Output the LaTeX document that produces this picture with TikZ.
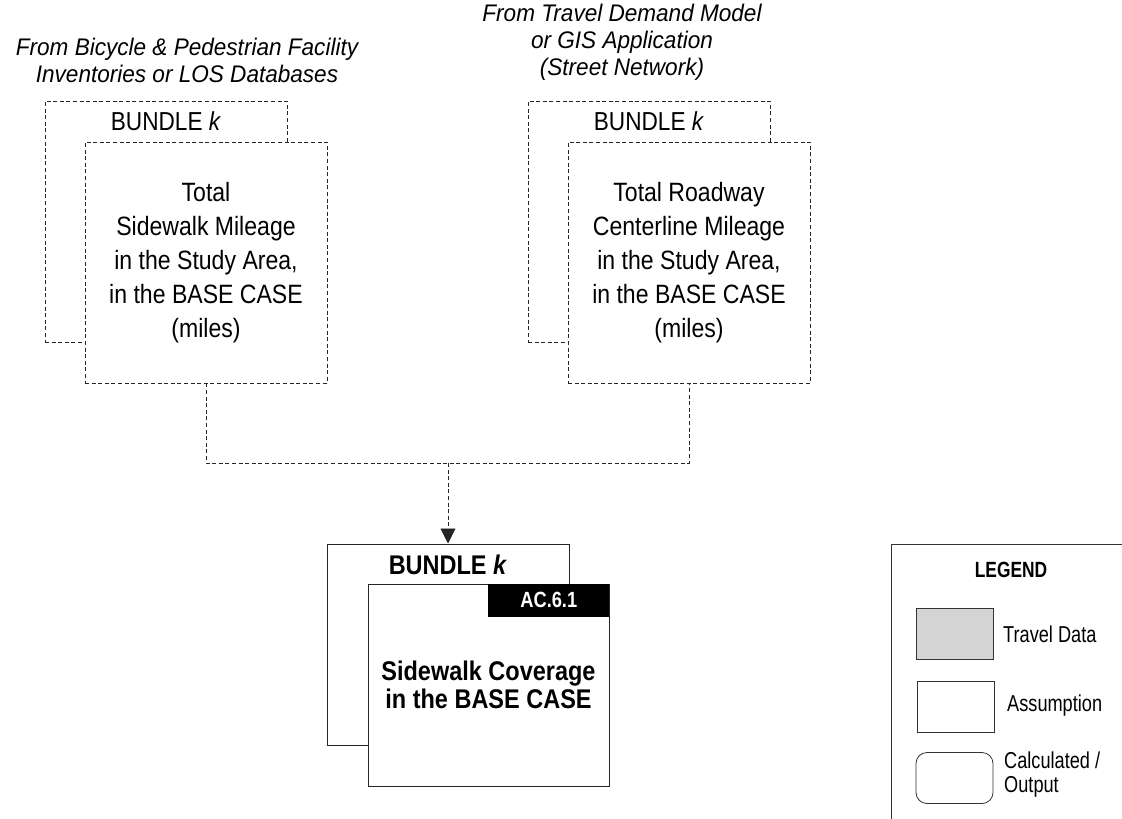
\documentclass[tikz,border=0pt]{standalone}
\usepackage{fontspec}
\setmainfont{Liberation Sans}
\newfontfamily\boxfont{Liberation Sans}[FakeStretch=0.87]
\newfontfamily\srcfont{Liberation Sans}[FakeStretch=0.94]
\newfontfamily\legfont{Liberation Sans}[FakeStretch=0.79]
\newfontfamily\tagfont{Liberation Sans}[FakeStretch=0.83]
\usetikzlibrary{arrows.meta}

\tikzset{
  dline/.style={draw=black!85, line width=0.9pt, dash pattern=on 4pt off 2.6pt},
  sline/.style={draw=black!85, line width=1pt},
  inbox/.style={dline, fill=white, inner sep=0pt, minimum width=242pt, minimum height=241pt,
    align=center, font=\boxfont\fontsize{26.5}{34}\selectfont},
  inback/.style={dline, inner sep=0pt, minimum width=242pt, minimum height=241pt},
  bundlelbl/.style={inner sep=0pt, font=\boxfont\fontsize{26}{27}\selectfont},
  srclbl/.style={inner sep=0pt, align=center, font=\srcfont\fontsize{24}{27}\selectfont\itshape},
  legtxt/.style={inner sep=0pt, anchor=west, align=left, font=\legfont\fontsize{23}{24}\selectfont},
  legbox/.style={draw=black!80, line width=0.8pt, inner sep=0pt, minimum width=77pt, minimum height=51pt},
}

\begin{document}
\begin{tikzpicture}[x=1pt,y=-1pt]
\useasboundingbox (0,0) rectangle (1122,819);

% source notes
\node[srclbl] (srcL) at (187,60.5) {From Bicycle \& Pedestrian Facility\\Inventories or LOS Databases};
\node[srclbl] (srcR) at (622,42.5) {From Travel Demand Model\\or GIS Application\\(Street Network)};

% left input: sidewalk mileage
\node[inback] (lback) at (166,221.5) {};
\node[bundlelbl] (lbun) at (166,121) {BUNDLE \textit{k}};
\node[inbox] (lfront) at (206,262.5) {Total\\Sidewalk Mileage\\in the Study Area,\\in the BASE CASE\\(miles)};

% right input: roadway centerline mileage
\node[inback] (rback) at (649,221.5) {};
\node[bundlelbl] (rbun) at (649,121) {BUNDLE \textit{k}};
\node[inbox] (rfront) at (689,262.5) {Total Roadway\\Centerline Mileage\\in the Study Area,\\in the BASE CASE\\(miles)};

% output: sidewalk coverage
\node[sline, fill=white, inner sep=0pt, minimum width=242pt, minimum height=201pt] (bback) at (448,644.5) {};
\node[inner sep=0pt, font=\boxfont\fontsize{27}{27}\selectfont\bfseries] (bbun) at (448,565) {BUNDLE \textit{k}};
\node[sline, fill=white, inner sep=0pt, minimum width=241pt, minimum height=202pt,
  align=center, font=\boxfont\fontsize{27}{28}\selectfont\bfseries] (bfront) at (488.5,685) {Sidewalk Coverage\\in the BASE CASE};
\node[fill=black, inner sep=0pt, minimum width=121pt, minimum height=33pt,
  text=white, font=\tagfont\fontsize{22}{22}\selectfont\bfseries, anchor=north east] (tag) at (bfront.north east) {AC.6.1};

% connectors
\coordinate (junc) at (448,463);
\draw[dline] (lfront.south) -- (lfront.south |- junc) -- (rfront.south |- junc) -- (rfront.south);
\draw[dline, -{Triangle[width=15pt,length=15pt]}] (junc) -- (bback.north);

% legend
\begin{scope}
\clip (0,0) rectangle (1122,819);
\draw[sline, draw=black!80] (891,544) -- (1140,544) -- (1140,840) -- (891,840) -- cycle;
\node[inner sep=0pt, font=\legfont\fontsize{22}{22}\selectfont\bfseries] (legT) at (1011,570) {LEGEND};
\node[legbox, fill=black!17] (legA) at (954.5,633.5) {};
\node[legtxt] (legAt) at (1003,634) {Travel Data};
\node[legbox, fill=white] (legB) at (955.5,706.5) {};
\node[legtxt] (legBt) at (1007,706) {Assumption};
\node[legbox, fill=white, rounded corners=11pt] (legC) at (954.5,778) {};
\node[legtxt] (legCt) at (1004,775) {Calculated /\\Output};
\end{scope}
\end{tikzpicture}
\end{document}
